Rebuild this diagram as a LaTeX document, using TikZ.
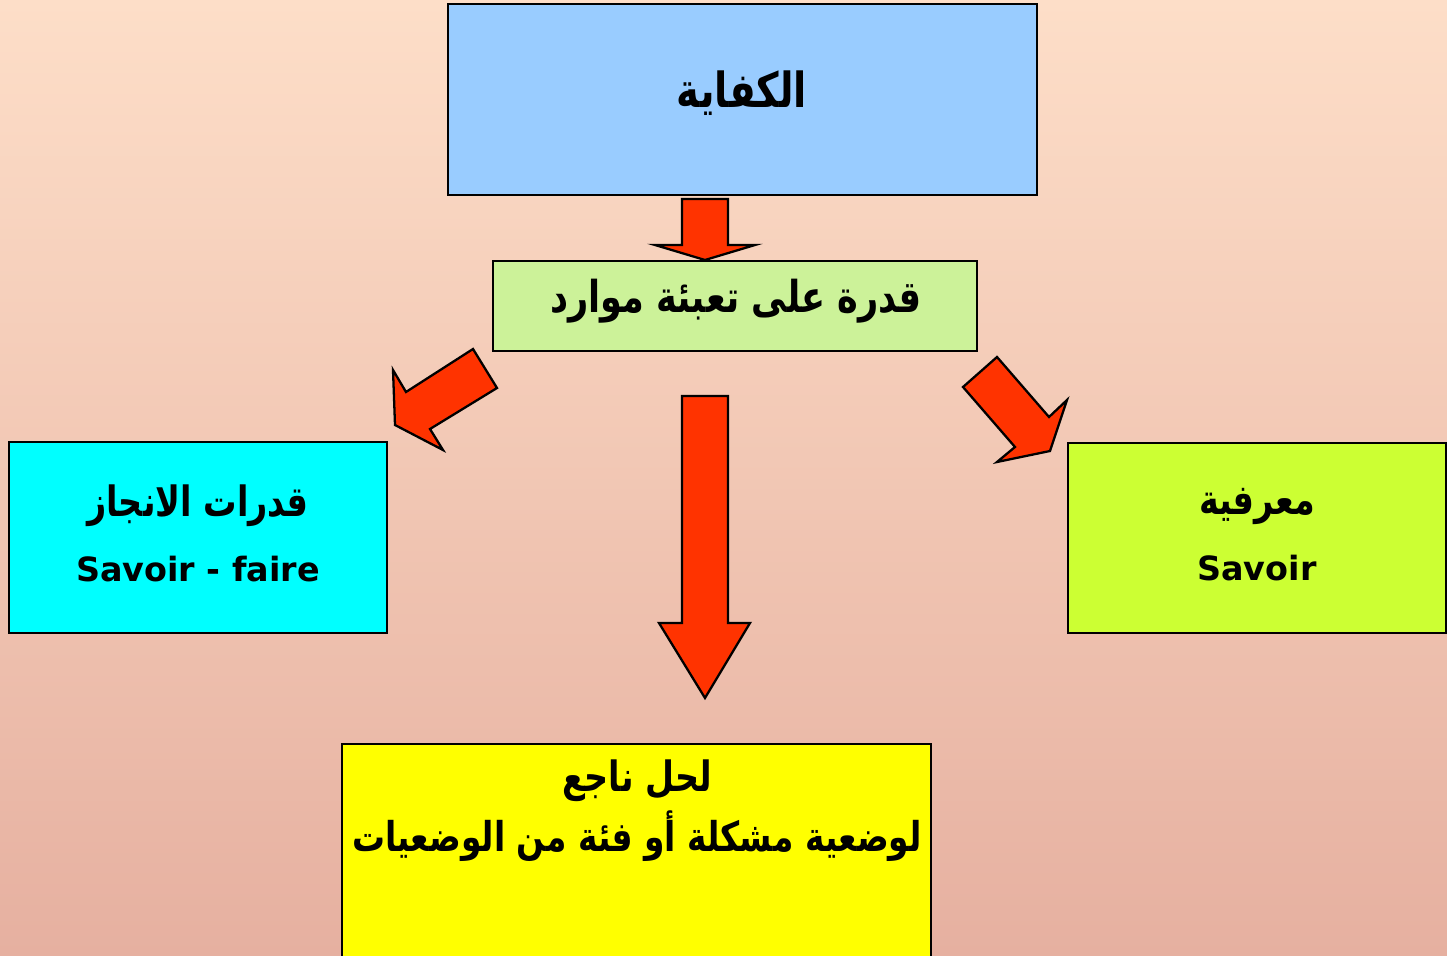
\documentclass[tikz,border=0pt]{standalone}
\usepackage{fontspec}
\setmainfont{DejaVu Sans}
\newfontfamily\arabicfont[Script=Arabic]{DejaVu Sans}
\TeXXeTstate=1
\definecolor{bgtop}{HTML}{FDDEC8}
\definecolor{bgbot}{HTML}{E6B0A0}
\definecolor{bluebox}{HTML}{99CCFF}
\definecolor{greenbox}{HTML}{CCF299}
\definecolor{cyanbox}{HTML}{00FFFF}
\definecolor{limebox}{HTML}{CCFF33}
\definecolor{yellowbox}{HTML}{FFFF00}
\definecolor{arrowred}{HTML}{FF3300}
\newcommand{\artxt}[1]{\scalebox{1}[1.25]{\beginR #1\endR}}
\tikzset{
  box/.style={draw=black, line width=1.2pt, inner sep=0pt, align=center},
  blockarrow/.style={draw=black, fill=arrowred, line width=1.3pt, line join=miter},
  artext/.style={font=\arabicfont\bfseries\fontsize{19}{23}\selectfont},
  latext/.style={font=\bfseries\fontsize{19}{23}\selectfont},
}
\begin{document}
\begin{tikzpicture}[x=0.02cm,y=-0.02cm]
\useasboundingbox (0,0) rectangle (1447,956);
\shade[top color=bgtop, bottom color=bgbot] (0,0) rectangle (1447,956);
% boxes
\node[box, fill=bluebox, minimum width=589*0.02cm, minimum height=191*0.02cm] (kafaya) at (742.5,99.5) {};
\node[artext, font=\arabicfont\bfseries\fontsize{22}{26}\selectfont] (kafayaT) at (742,93) {\artxt{الكفاية}};
\node[box, fill=greenbox, minimum width=484*0.02cm, minimum height=90*0.02cm] (qudra) at (735,306) {};
\node[artext, font=\arabicfont\bfseries\fontsize{20}{24}\selectfont] (qudraT) at (736,301) {\artxt{قدرة على تعبئة موارد}};
\node[box, fill=cyanbox, minimum width=378*0.02cm, minimum height=191*0.02cm] (faire) at (198,537.5) {};
\node[artext] (faireA) at (198,506) {\artxt{قدرات الانجاز}};
\node[latext] (faireL) at (198,569) {Savoir - faire};
\node[box, fill=limebox, minimum width=378*0.02cm, minimum height=190*0.02cm] (savoir) at (1257,538) {};
\node[artext] (savoirA) at (1257,506) {\artxt{معرفية}};
\node[latext] (savoirL) at (1257,568) {Savoir};
\node[box, fill=yellowbox, minimum width=589*0.02cm, minimum height=226*0.02cm] (hal) at (636.5,857) {};
\node[artext] (halA) at (637,781) {\artxt{لحل ناجع}};
\node[artext, font=\arabicfont\bfseries\fontsize{18.7}{22}\selectfont] (halB) at (637,836) {\artxt{لوضعية مشكلة أو فئة من الوضعيات}};
% block arrows
\draw[blockarrow] (682,199) -- (728,199) -- (728,245) -- (755,245) -- (705,260) -- (655,245) -- (682,245) -- cycle;
\draw[blockarrow] (682,396) -- (728,396) -- (728,623) -- (750,623) -- (705,698) -- (659,623) -- (682,623) -- cycle;
\draw[blockarrow] (473,349) -- (497,388) -- (430,429) -- (443,450) -- (395,425) -- (393,370) -- (406,392) -- cycle;
\draw[blockarrow] (997,357) -- (963,387) -- (1015,447) -- (997,462) -- (1050,451) -- (1067,400) -- (1049,417) -- cycle;
\end{tikzpicture}
\end{document}
